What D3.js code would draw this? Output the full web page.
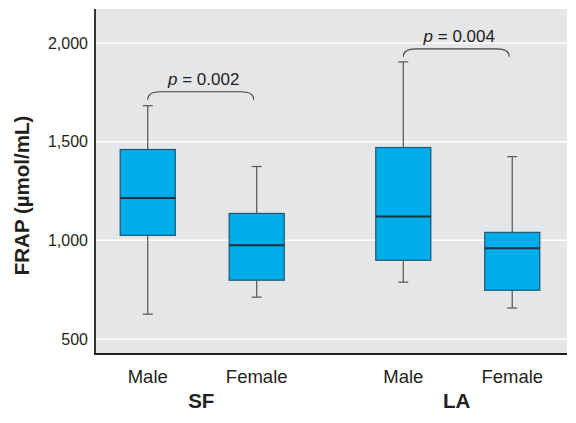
<!DOCTYPE html>
<html>
<head>
<meta charset="utf-8">
<script src="https://cdn.jsdelivr.net/npm/d3@7"></script>
<style>
  html, body { margin: 0; padding: 0; background: #fff; }
  svg { display: block; font-family: "Liberation Sans", Arial, sans-serif; }
</style>
</head>
<body>
<svg id="chart" width="576" height="423"></svg>
<script>
// ---- data ----
const groups = ["SF", "LA"];
const sexes = ["Male", "Female"];
const whiskerLow  = [626, 712, 788, 657];   // SF-Male, SF-Female, LA-Male, LA-Female
const q1          = [1025, 798, 899, 747];
const median      = [1215, 975, 1121, 960];
const q3          = [1460, 1136, 1470, 1040];
const whiskerHigh = [1682, 1374, 1904, 1424];
const yTicks = [500, 1000, 1500, 2000];
const pLabels = ["0.002", "0.004"];
const bracketLevel = [1753, 1970];

const svg = d3.select("#chart");
const plot = { left: 95, right: 567, top: 9, bottom: 354 };

const y = d3.scaleLinear().domain([424, 2172]).range([plot.bottom, plot.top]);
const xGroup = d3.scaleBand().domain(groups).range([93, 567]).paddingInner(0.145).paddingOuter(0);
const xSex = d3.scaleBand().domain(sexes).range([0, xGroup.bandwidth()]).paddingInner(0.495).paddingOuter(0.25);

const records = [];
groups.forEach((g, gi) => sexes.forEach((s, si) => {
  const i = gi * 2 + si;
  records.push({ g, s, lo: whiskerLow[i], q1: q1[i], med: median[i], q3: q3[i], hi: whiskerHigh[i] });
}));
const cx = d => xGroup(d.g) + xSex(d.s) + xSex.bandwidth() / 2;

// background
svg.append("rect").attr("x", plot.left).attr("y", plot.top)
  .attr("width", plot.right - plot.left).attr("height", plot.bottom - plot.top)
  .attr("fill", "#e5e6e8");

// gridlines
svg.append("g").selectAll("line").data(yTicks).join("line")
  .attr("x1", plot.left).attr("x2", plot.right)
  .attr("y1", d => y(d)).attr("y2", d => y(d))
  .attr("stroke", "#fff").attr("stroke-width", 1.5);

// y axis
const yAxis = d3.axisLeft(y).tickValues(yTicks).tickSize(0).tickPadding(7).tickFormat(d3.format(","));
const ya = svg.append("g").attr("transform", `translate(${plot.left},0)`).call(yAxis);
ya.select(".domain").remove();
ya.selectAll("text").attr("font-size", 16).attr("fill", "#231f20")
  .attr("font-family", "'Liberation Sans', Arial, sans-serif");
svg.append("line").attr("x1", plot.left).attr("x2", plot.left).attr("y1", plot.top).attr("y2", plot.bottom + 1)
  .attr("stroke", "#231f20").attr("stroke-width", 1.8);
svg.append("line").attr("x1", plot.left).attr("x2", plot.right).attr("y1", plot.bottom).attr("y2", plot.bottom)
  .attr("stroke", "#231f20").attr("stroke-width", 1.8);

// y title
svg.append("text")
  .attr("transform", `translate(29,${(plot.top + plot.bottom) / 2 + 14}) rotate(-90)`)
  .attr("text-anchor", "middle").attr("font-weight", "bold").attr("font-size", 20.5)
  .attr("fill", "#231f20").text("FRAP (\u00b5mol/mL)");

// boxes
const bw = xSex.bandwidth();
const cap = 10;
const bx = svg.append("g").selectAll("g").data(records).join("g");
bx.append("line").attr("x1", cx).attr("x2", cx).attr("y1", d => y(d.hi)).attr("y2", d => y(d.q3))
  .attr("stroke", "#555", "").attr("stroke-width", 1.2);
bx.append("line").attr("x1", cx).attr("x2", cx).attr("y1", d => y(d.q1)).attr("y2", d => y(d.lo))
  .attr("stroke", "#555").attr("stroke-width", 1.2);
bx.append("line").attr("x1", d => cx(d) - cap / 2).attr("x2", d => cx(d) + cap / 2)
  .attr("y1", d => y(d.hi)).attr("y2", d => y(d.hi)).attr("stroke", "#555").attr("stroke-width", 1.2);
bx.append("line").attr("x1", d => cx(d) - cap / 2).attr("x2", d => cx(d) + cap / 2)
  .attr("y1", d => y(d.lo)).attr("y2", d => y(d.lo)).attr("stroke", "#555").attr("stroke-width", 1.2);
bx.append("rect").attr("x", d => cx(d) - bw / 2).attr("width", bw)
  .attr("y", d => y(d.q3)).attr("height", d => y(d.q1) - y(d.q3))
  .attr("fill", "#00adeb").attr("stroke", "#245c77").attr("stroke-width", 1.3);
bx.append("line").attr("x1", d => cx(d) - bw / 2).attr("x2", d => cx(d) + bw / 2)
  .attr("y1", d => y(d.med)).attr("y2", d => y(d.med)).attr("stroke", "#1b3342").attr("stroke-width", 2);

// x labels
svg.append("g").selectAll("text").data(records).join("text")
  .attr("x", cx).attr("y", 383).attr("text-anchor", "middle")
  .attr("font-size", 18.5).attr("fill", "#231f20").text(d => d.s);
svg.append("g").selectAll("text").data(groups).join("text")
  .attr("x", d => xGroup(d) + xGroup.bandwidth() / 2 - 1).attr("y", 408).attr("text-anchor", "middle")
  .attr("font-size", 20.5).attr("font-weight", "bold").attr("fill", "#231f20").text(d => d);

// p-value brackets
const r = 8;
groups.forEach((g, gi) => {
  const x1 = cx(records[gi * 2]);
  const x2 = cx(records[gi * 2 + 1]) - 3;
  const yl = y(bracketLevel[gi]);
  const path = d3.path();
  path.moveTo(x1, yl + r);
  path.quadraticCurveTo(x1, yl, x1 + r * 1.6, yl);
  path.lineTo(x2 - r * 1.6, yl);
  path.quadraticCurveTo(x2, yl, x2, yl + r);
  svg.append("path").attr("d", path.toString()).attr("fill", "none")
    .attr("stroke", "#444").attr("stroke-width", 1.1);
  const t = svg.append("text").attr("x", (x1 + x2) / 2 + 3).attr("y", yl - 7)
    .attr("text-anchor", "middle").attr("font-size", 17).attr("fill", "#231f20");
  t.append("tspan").attr("font-style", "italic").text("p");
  t.append("tspan").text(" = " + pLabels[gi]);
});
</script>
</body>
</html>
